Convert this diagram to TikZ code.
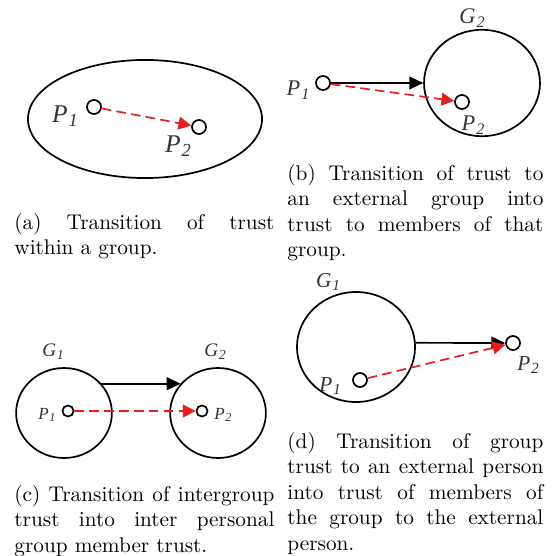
\documentclass[tikz,border=0pt]{standalone}
\usepackage{fontspec}
\newfontfamily\figfont{Liberation Serif}
\usetikzlibrary{arrows.meta,shapes.geometric}
\definecolor{trustred}{RGB}{232,30,30}
\newcommand{\plab}[2]{#1\kern0.04em\raisebox{-0.35ex}{\scalebox{0.72}{#2}}}
\tikzset{
  grp/.style={draw=black, line width=0.8pt, ellipse, inner sep=0pt},
  member/.style={draw=black, line width=0.8pt, circle, inner sep=0pt, minimum size=#1},
  member/.default=6.6pt,
  lbl/.style={font=\figfont\itshape\fontsize{#1}{#1}\selectfont, inner sep=0pt, text=black!80},
  lbl/.default=11pt,
  grparr/.style={-{Triangle[length=6.5pt,width=6pt]}, line width=0.8pt},
  trustarr/.style={-{Triangle[length=6pt,width=6pt]}, draw=trustred, line width=0.8pt,
    dash pattern=on 4.5pt off 2.5pt},
  capt/.style={anchor=north west, inner sep=0pt, text width=#1, align=justify},
  capt/.default=122.2pt
}
\begin{document}
\begin{tikzpicture}[x=0.47pt,y=-0.47pt]
  \useasboundingbox (0,0) rectangle (554,556);

  % (a) inside one group
  \node[grp, minimum width=110pt, minimum height=55.5pt] (ga) at (145,119) {};
  \node[member] (a1) at (94,107) {};
  \node[member] (a2) at (199,127) {};
  \node[lbl=12pt] (a1l) at (65,116) {\plab{P}{1}};
  \node[lbl=12pt] (a2l) at (178,146) {\plab{P}{2}};
  \draw[trustarr] (a1) -- (a2);
  \node[capt] (capa) at (14,213) {(a) Transition of trust\linebreak within a group.};

  % (b) person to external group
  \node[grp, minimum width=54.5pt, minimum height=50pt] (gb) at (482,83) {};
  \node[lbl=10.5pt] (gbl) at (472,18) {\plab{G}{2}};
  \node[member] (b1) at (323,83) {};
  \node[member] (b2) at (462,102) {};
  \node[lbl=10.5pt] (b1l) at (298,90) {\plab{P}{1}};
  \node[lbl=10.5pt] (b2l) at (473,125) {\plab{P}{2}};
  \draw[grparr] (b1) -- (gb);
  \draw[trustarr] (b1) -- (b2);
  \node[capt=120.3pt] (capb) at (287,164) {(b) Transition of trust to\linebreak an external group into\linebreak trust to members of that\linebreak group.};

  % (c) group to group
  \node[grp, minimum width=45pt, minimum height=42.3pt] (gc1) at (64,413) {};
  \node[grp, minimum width=45pt, minimum height=42.3pt] (gc2) at (218,413) {};
  \node[lbl=9pt] (gc1l) at (53,352) {\plab{G}{1}};
  \node[lbl=9pt] (gc2l) at (215,352) {\plab{G}{2}};
  \node[member=5.2pt] (c1) at (68,411) {};
  \node[member=5.2pt] (c2) at (202,411) {};
  \node[lbl=8pt] (c1l) at (47,415) {\plab{P}{1}};
  \node[lbl=8pt] (c2l) at (223,415) {\plab{P}{2}};
  \draw[grparr] (gc1.38) -- (gc2.142);
  \draw[trustarr] (c1) -- (c2);
  \node[capt] (capc) at (14,485) {(c) Transition of intergroup\linebreak trust into inter personal\linebreak group member trust.};

  % (d) group to external person
  \node[grp, minimum width=55.5pt, minimum height=51.7pt] (gd) at (356,347) {};
  \node[lbl=10pt] (gdl) at (328,282) {\plab{G}{1}};
  \node[member] (d1) at (360,380) {};
  \node[member] (d2) at (513,343) {};
  \node[lbl=10pt] (d1l) at (330,386) {\plab{P}{1}};
  \node[lbl=10pt] (d2l) at (528,365) {\plab{P}{2}};
  \draw[grparr] (gd.4) -- (d2.west);
  \draw[trustarr] (d1) -- (d2);
  \node[capt=120.3pt] (capd) at (287,432) {(d) Transition of group\linebreak trust to an external person\linebreak into trust of members of\linebreak the group to the external\linebreak person.};
\end{tikzpicture}
\end{document}
